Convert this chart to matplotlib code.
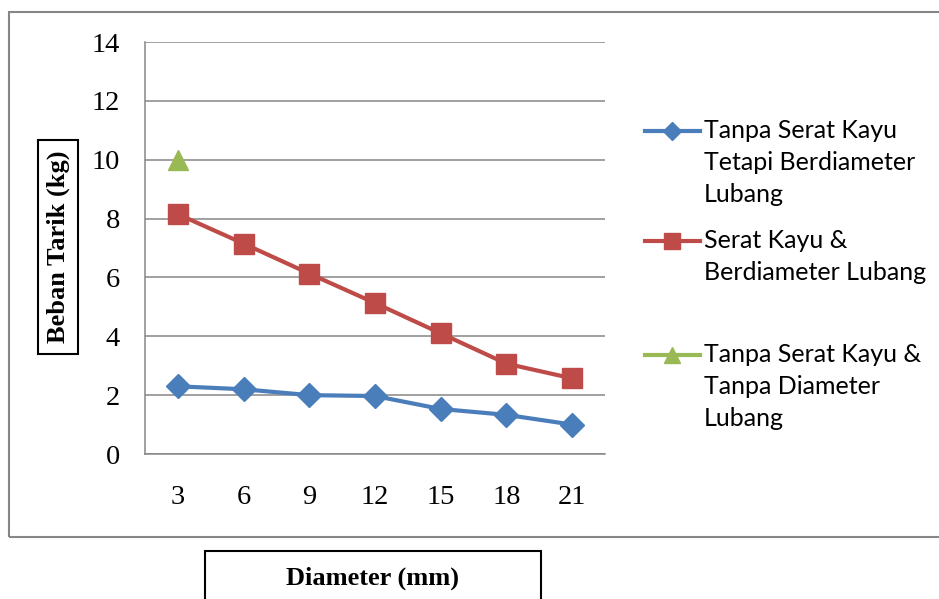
import matplotlib.pyplot as plt
from matplotlib.lines import Line2D
from matplotlib.patches import Rectangle

# data
diameters = ["3", "6", "9", "12", "15", "18", "21"]
tanpa_serat_berlubang = [2.3, 2.2, 2.0, 1.97, 1.53, 1.33, 1.0]
serat_berlubang = [8.15, 7.15, 6.13, 5.13, 4.1, 3.07, 2.57]
tanpa_serat_tanpa_lubang = [10.0, None, None, None, None, None, None]
yticks = [0, 2, 4, 6, 8, 10, 12, 14]

labels = [
    ["Tanpa Serat Kayu", "Tetapi Berdiameter", "Lubang"],
    ["Serat Kayu &", "Berdiameter Lubang"],
    ["Tanpa Serat Kayu &", "Tanpa Diameter", "Lubang"],
]

W, H = 939, 599
fig = plt.figure(figsize=(W / 100, H / 100), dpi=100)
ax = fig.add_axes([145 / W, 1 - 454 / H, 460 / W, 412 / H])

grid_col = "#868686"
x = list(range(len(diameters)))

l1, = ax.plot(x, tanpa_serat_berlubang, color="#4A7EBB", lw=3,
              marker="D", markersize=12)
l2, = ax.plot(x, serat_berlubang, color="#BE4B48", lw=3,
              marker="s", markersize=14.5)
y3 = [float("nan") if v is None else v for v in tanpa_serat_tanpa_lubang]
l3, = ax.plot(x, y3, color="#98B954", lw=3, marker="^", markersize=15)

ax.set_xlim(-0.5, len(diameters) - 0.5)
ax.set_ylim(0, 14)
ax.set_yticks(yticks)
ax.set_xticks(x)
ax.set_xticklabels(diameters)
ax.yaxis.grid(True, color=grid_col, lw=1.1)
ax.set_axisbelow(True)
for s in ["top", "right"]:
    ax.spines[s].set_visible(False)
for s in ["left", "bottom"]:
    ax.spines[s].set_color(grid_col)
    ax.spines[s].set_linewidth(1.1)
ax.tick_params(length=0, labelsize=20.5)
ax.tick_params(axis="x", pad=22)
ax.tick_params(axis="y", pad=18)
for t in ax.get_xticklabels() + ax.get_yticklabels():
    t.set_fontfamily("Liberation Serif")

# outer chart frame
fig.patches.append(Rectangle((9 / W, 1 - 537 / H), 1.0, 525 / H,
                             transform=fig.transFigure, fill=False,
                             edgecolor=grid_col, lw=1.5, clip_on=False))

# legend drawn by hand so the handle sits at the first text line
legend_y = [131, 241, 355]
for line, lab, yy in zip([l1, l2, l3], labels, legend_y):
    fy = 1 - yy / H
    fig.add_artist(Line2D([645 / W, 700 / W], [fy, fy], transform=fig.transFigure,
                          color=line.get_color(), lw=line.get_linewidth()))
    fig.add_artist(Line2D([672 / W], [fy], transform=fig.transFigure,
                          color=line.get_color(), marker=line.get_marker(),
                          markersize=line.get_markersize() * 0.8, lw=0))
    for i, txt in enumerate(lab):
        fig.text(704 / W, 1 - (yy + 32 * i) / H, txt, fontsize=18,
                 fontfamily="Lato", va="center", ha="left")

# boxed y label
fig.text(58 / W, 1 - 247 / H, "Beban Tarik (kg)", rotation=90, fontsize=19,
         fontweight="bold", fontfamily="Liberation Serif", ha="center", va="center")
fig.patches.append(Rectangle((38 / W, 1 - 354 / H), 40 / W, 214 / H,
                             transform=fig.transFigure, fill=False,
                             edgecolor="black", lw=1.5))

# boxed x label at the bottom
fig.text(373 / W, 1 - 578 / H, "Diameter (mm)", fontsize=19,
         fontweight="bold", fontfamily="Liberation Serif", ha="center", va="center")
fig.patches.append(Rectangle((205 / W, -0.05), 336 / W, 0.05 + 48 / H,
                             transform=fig.transFigure, fill=False,
                             edgecolor="black", lw=1.5, clip_on=False))

plt.savefig("out.png", dpi=100)
